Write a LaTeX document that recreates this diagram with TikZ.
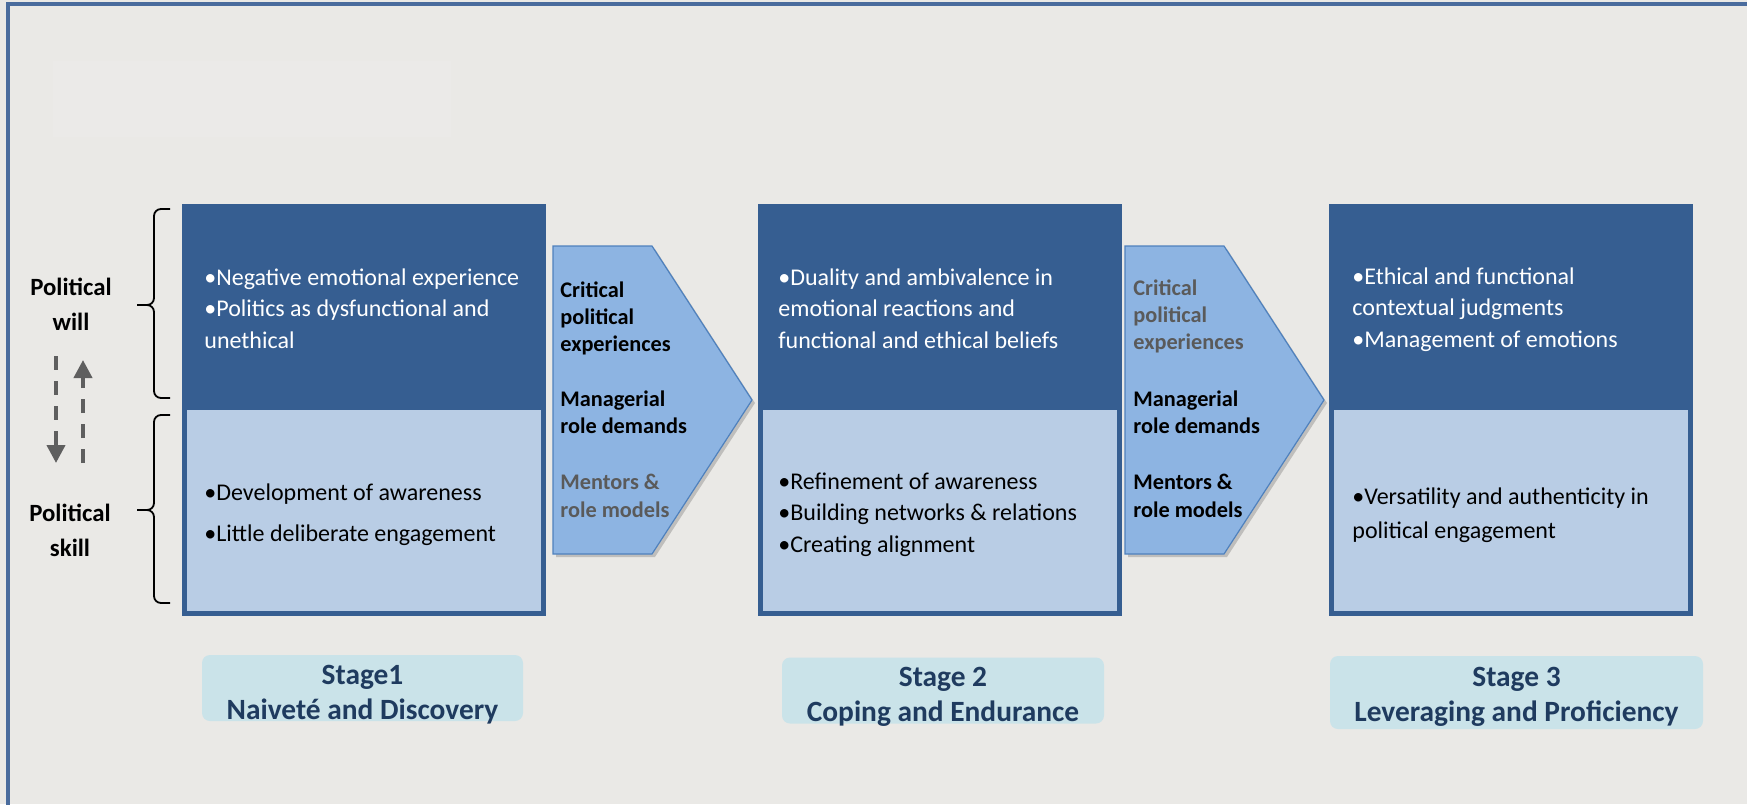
\documentclass[tikz,border=0pt]{standalone}
\usepackage{fontspec}
\setmainfont{Carlito}
\usepackage{xcolor}
\usetikzlibrary{arrows.meta,positioning}

\definecolor{paper}{HTML}{EAE9E6}
\definecolor{faint}{HTML}{EBEAE8}
\definecolor{frameblue}{HTML}{4A6C9D}
\definecolor{willblue}{HTML}{365E91}
\definecolor{skillblue}{HTML}{B9CDE5}
\definecolor{cuefill}{HTML}{8DB4E2}
\definecolor{cueline}{HTML}{4F81BD}
\definecolor{stagefill}{HTML}{CAE3E9}
\definecolor{stageink}{HTML}{1F3B5F}
\definecolor{dimtext}{HTML}{5A5A5A}
\definecolor{arrowgray}{HTML}{5F5F5F}

\begin{document}
\begin{tikzpicture}[x=0.5pt,y=-0.5pt,inner sep=0pt]
		\tikzstyle{willbox}=[fill=willblue,minimum width=182pt,minimum height=206pt,anchor=north west]
		\tikzstyle{skillbox}=[fill=skillblue,minimum width=177pt,minimum height=100.5pt,anchor=north west]
		\tikzstyle{willtext}=[text=white,align=left,anchor=north west,font=\fontsize{12}{15.8}\selectfont]
		\tikzstyle{skilltext}=[text=black,align=left,anchor=north west,font=\fontsize{12}{15.8}\selectfont]
		\tikzstyle{cuetext}=[align=left,anchor=north west,font=\bfseries\fontsize{11.15}{13.6}\selectfont]
		\tikzstyle{sidelabel}=[align=center,font=\bfseries\fontsize{12.4}{17.5}\selectfont]
		\tikzstyle{stagebox}=[fill=stagefill,rounded corners=4pt,minimum height=33pt]
		\tikzstyle{stagetitle}=[text=stageink,align=center,font=\bfseries\fontsize{14.7}{17.5}\selectfont]
		\tikzstyle{updown}=[draw=arrowgray,line width=2pt,dash pattern=on 7pt off 5.5pt,-{Triangle[width=9pt,length=9pt]}]
		\tikzstyle{bracket}=[draw=black,line width=0.9pt,rounded corners=3.5pt]

		\path[use as bounding box,fill=paper] (0,0) rectangle (1747,804);
		\fill[faint] (53,61) rectangle (451,137);
		\draw[frameblue,line width=1.6pt] (8,810) -- (8,4) -- (1760,4);

		\node[willbox]  (W1) at (182,204)  {};
		\node[skillbox] (S1) at (187,410)  {};
		\node[willbox]  (W2) at (758,204)  {};
		\node[skillbox] (S2) at (763,410)  {};
		\node[willbox]  (W3) at (1329,204) {};
		\node[skillbox] (S3) at (1334,410) {};

		\node[willtext] (W1t) at (204,268) {•Negative emotional experience\\•Politics as dysfunctional and\\unethical};
		\node[willtext] (W2t) at (778,268) {•Duality and ambivalence in\\emotional reactions and\\functional and ethical beliefs};
		\node[willtext] (W3t) at (1352,267) {•Ethical and functional\\contextual judgments\\•Management of emotions};

		\node[skilltext] (S1t) at (204,483)  {•Development of awareness\\[4.8pt]•Little deliberate engagement};
		\node[skilltext] (S2t) at (778,472)  {•Refinement of awareness\\•Building networks \& relations\\•Creating alignment};
		\node[skilltext] (S3t) at (1352,487) {•Versatility and authenticity in\\[1.5pt]political engagement};

		\foreach \x in {553,1125} {
			\fill[black,opacity=0.18] (\x+3,249) -- (\x+102,249) -- (\x+202,403) -- (\x+102,557) -- (\x+3,557) -- cycle;
			\filldraw[fill=cuefill,draw=cueline,line width=0.6pt] (\x,246) -- (\x+99,246) -- (\x+199,400) -- (\x+99,554) -- (\x,554) -- cycle;
		}

		\node[cuetext,text=black]   (C1) at (560,281)  {Critical\\political\\experiences};
		\node[cuetext,text=black]   (M1) at (560,390)  {Managerial\\role demands};
		\node[cuetext,text=dimtext] (R1) at (560,474)  {Mentors \&\\role models};
		\node[cuetext,text=dimtext] (C2) at (1133,279) {Critical\\political\\experiences};
		\node[cuetext,text=black]   (M2) at (1133,390) {Managerial\\role demands};
		\node[cuetext,text=black]   (R2) at (1133,474) {Mentors \&\\role models};

		\node[sidelabel] (PW) at (71,304) {Political\\will};
		\node[sidelabel] (PS) at (70,530) {Political\\skill};

		\foreach \t/\m/\b in {209/305/398, 415/510/603} {
			\draw[bracket] (170,\t) -- (154,\t) -- (154,\m) -- (137,\m);
			\draw[bracket] (137,\m) -- (154,\m) -- (154,\b) -- (170,\b);
		}

		\coordinate (dn1) at (56,356);
		\coordinate (dn2) at (56,463);
		\coordinate (up1) at (83,463);
		\coordinate (up2) at (83,360);
		\draw[updown] (dn1) -- (dn2);
		\draw[updown] (up1) -- (up2);

		\node[stagebox,minimum width=160.5pt] (G1) at (362.5,688) {};
		\node[stagebox,minimum width=161pt]   (G2) at (943,690.5) {};
		\node[stagebox,minimum width=186.5pt,minimum height=36.5pt] (G3) at (1516.5,692.5) {};
		\node[stagetitle] (G1t) at (362.5,695) {Stage1\\Naiveté and Discovery};
		\node[stagetitle] (G2t) at (943,697)   {Stage 2\\Coping and Endurance};
		\node[stagetitle] (G3t) at (1516.5,697) {Stage 3\\Leveraging and Proficiency};
	\end{tikzpicture}
\end{document}
